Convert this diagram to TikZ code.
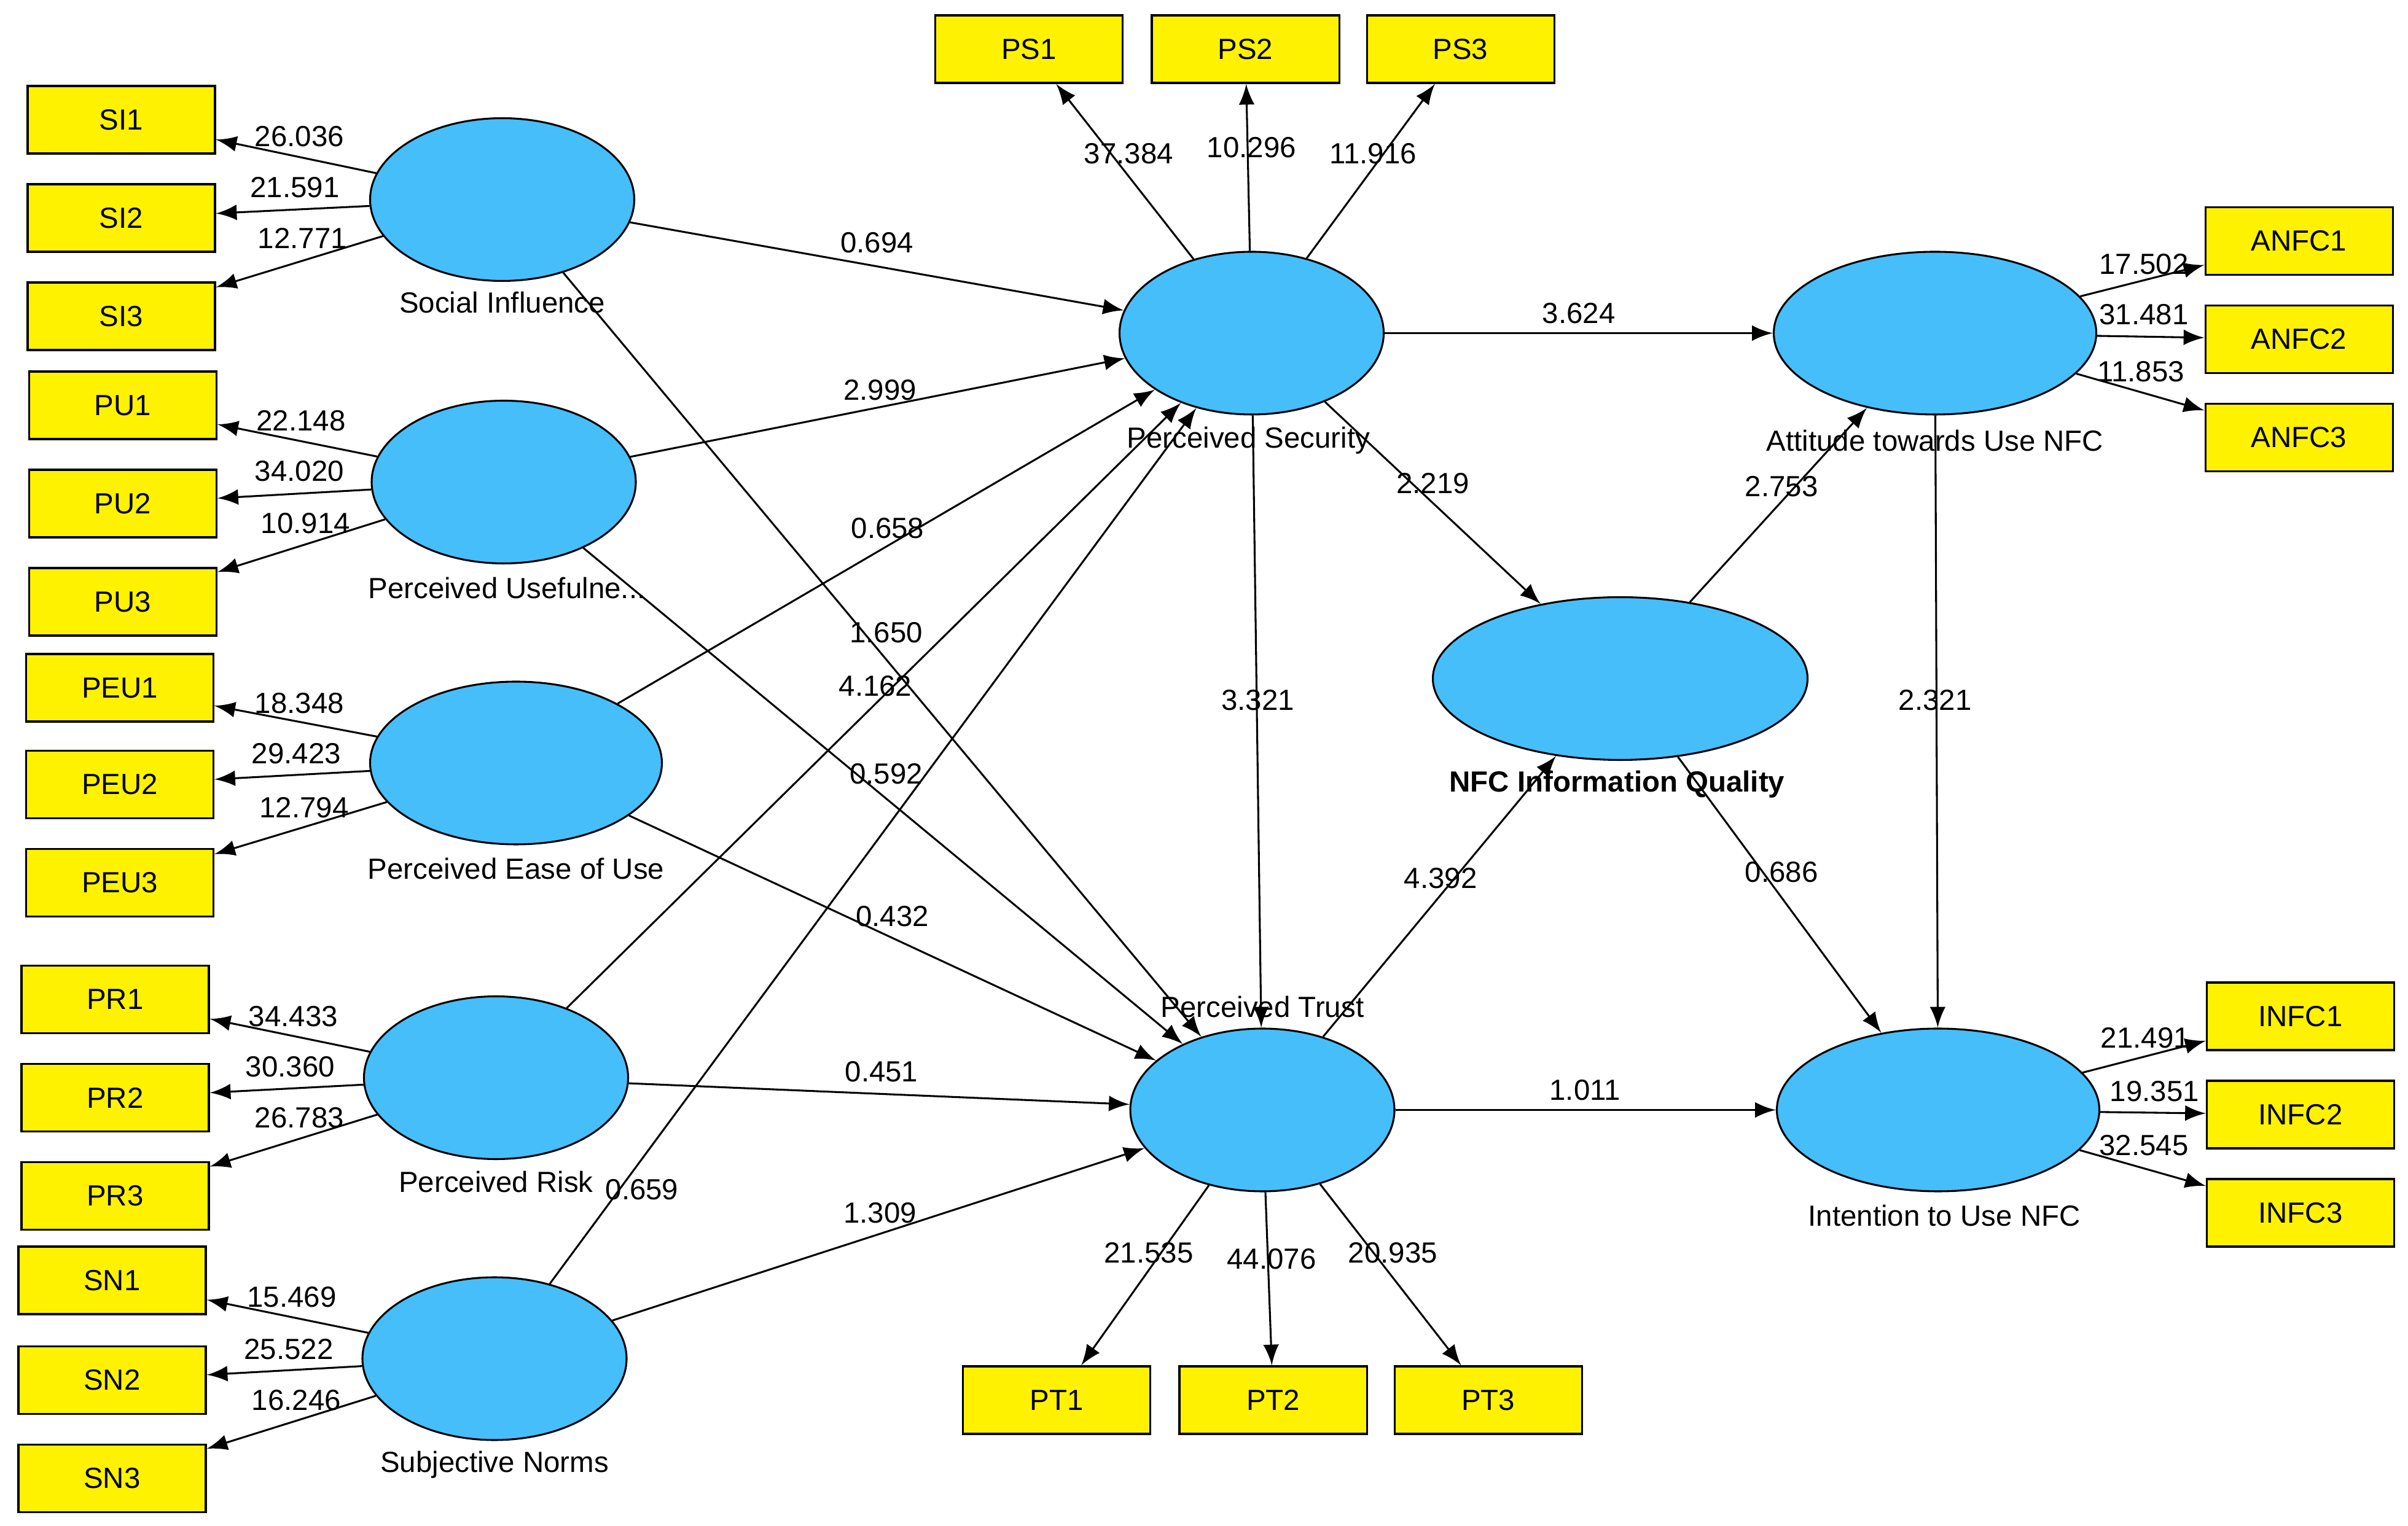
\documentclass[tikz,border=0pt]{standalone}
\usepackage{fontspec}
\setmainfont{Liberation Sans}
\usetikzlibrary{shapes.geometric}
\definecolor{lvblue}{RGB}{70,190,250}
\begin{document}
\begin{tikzpicture}[
            > = latex, % arrow head style
            line width = 0.35pt,
            font = \fontsize{5.4}{6}\selectfont,
            lv/.style = {shape=ellipse, draw=black, fill=lvblue, minimum width=1.72cm, minimum height=1.06cm, inner sep=0pt},
            mv/.style = {shape=rectangle, draw=black, fill=yellow, minimum width=1.22cm, minimum height=0.44cm, inner sep=0pt},
            lab/.style = {inner sep=0pt}
        ]
\useasboundingbox (0,0) rectangle (15.68,-9.94);

% latent variables
\node[lv] (SI) at (3.27,-1.30) {};
\node[lv] (PU) at (3.28,-3.14) {};
\node[lv, minimum width=1.90cm] (PEU) at (3.36,-4.97) {};
\node[lv] (PR) at (3.23,-7.02) {};
\node[lv] (SN) at (3.22,-8.85) {};
\node[lv] (PS) at (8.15,-2.17) {};
\node[lv] (PT) at (8.22,-7.23) {};
\node[lv, minimum width=2.44cm] (NIQ) at (10.55,-4.42) {};
\node[lv, minimum width=2.10cm] (ANFC) at (12.60,-2.17) {};
\node[lv, minimum width=2.10cm] (INFC) at (12.62,-7.23) {};

\node[lab] at (3.27,-1.97) {Social Influence};
\node[lab] at (3.30,-3.83) {Perceived Usefulne...};
\node[lab] at (3.36,-5.66) {Perceived Ease of Use};
\node[lab] at (3.23,-7.70) {Perceived Risk};
\node[lab] at (3.22,-9.54) {Subjective Norms};
\node[lab] at (8.13,-2.87) {Perceived Security};
\node[lab] at (8.22,-6.56) {Perceived Trust};
\node[lab] at (10.53,-5.11) {\bfseries NFC Information Quality};
\node[lab] at (12.60,-2.87) {Attitude towards Use NFC};
\node[lab] at (12.66,-7.92) {Intention to Use NFC};

% indicators
\node[mv] (SI1) at (0.79,-0.78) {SI1};
\node[mv] (SI2) at (0.79,-1.42) {SI2};
\node[mv] (SI3) at (0.79,-2.06) {SI3};
\node[mv] (PU1) at (0.80,-2.64) {PU1};
\node[mv] (PU2) at (0.80,-3.28) {PU2};
\node[mv] (PU3) at (0.80,-3.92) {PU3};
\node[mv] (PEU1) at (0.78,-4.48) {PEU1};
\node[mv] (PEU2) at (0.78,-5.11) {PEU2};
\node[mv] (PEU3) at (0.78,-5.75) {PEU3};
\node[mv] (PR1) at (0.75,-6.51) {PR1};
\node[mv] (PR2) at (0.75,-7.15) {PR2};
\node[mv] (PR3) at (0.75,-7.79) {PR3};
\node[mv] (SN1) at (0.73,-8.34) {SN1};
\node[mv] (SN2) at (0.73,-8.99) {SN2};
\node[mv] (SN3) at (0.73,-9.63) {SN3};
\node[mv] (PS1) at (6.70,-0.32) {PS1};
\node[mv] (PS2) at (8.11,-0.32) {PS2};
\node[mv] (PS3) at (9.51,-0.32) {PS3};
\node[mv] (PT1) at (6.88,-9.12) {PT1};
\node[mv] (PT2) at (8.29,-9.12) {PT2};
\node[mv] (PT3) at (9.69,-9.12) {PT3};
\node[mv] (ANFC1) at (14.97,-1.57) {ANFC1};
\node[mv] (ANFC2) at (14.97,-2.21) {ANFC2};
\node[mv] (ANFC3) at (14.97,-2.85) {ANFC3};
\node[mv] (INFC1) at (14.98,-6.62) {INFC1};
\node[mv] (INFC2) at (14.98,-7.26) {INFC2};
\node[mv] (INFC3) at (14.98,-7.90) {INFC3};

% outer loadings
\path [->] (SI) edge (SI1) (SI) edge (SI2) (SI) edge (SI3);
\path [->] (PU) edge (PU1) (PU) edge (PU2) (PU) edge (PU3);
\path [->] (PEU) edge (PEU1) (PEU) edge (PEU2) (PEU) edge (PEU3);
\path [->] (PR) edge (PR1) (PR) edge (PR2) (PR) edge (PR3);
\path [->] (SN) edge (SN1) (SN) edge (SN2) (SN) edge (SN3);
\path [->] (PS) edge (PS1) (PS) edge (PS2) (PS) edge (PS3);
\path [->] (PT) edge (PT1) (PT) edge (PT2) (PT) edge (PT3);
\path [->] (ANFC) edge (ANFC1) (ANFC) edge (ANFC2) (ANFC) edge (ANFC3);
\path [->] (INFC) edge (INFC1) (INFC) edge (INFC2) (INFC) edge (INFC3);

\node[lab] at (1.95,-0.89) {26.036};
\node[lab] at (1.92,-1.22) {21.591};
\node[lab] at (1.97,-1.55) {12.771};
\node[lab] at (1.96,-2.74) {22.148};
\node[lab] at (1.95,-3.07) {34.020};
\node[lab] at (1.99,-3.41) {10.914};
\node[lab] at (1.95,-4.58) {18.348};
\node[lab] at (1.93,-4.91) {29.423};
\node[lab] at (1.98,-5.26) {12.794};
\node[lab] at (1.91,-6.62) {34.433};
\node[lab] at (1.89,-6.95) {30.360};
\node[lab] at (1.95,-7.28) {26.783};
\node[lab] at (1.90,-8.45) {15.469};
\node[lab] at (1.88,-8.79) {25.522};
\node[lab] at (1.93,-9.12) {16.246};
\node[lab] at (7.35,-1.00) {37.384};
\node[lab] at (8.15,-0.96) {10.296};
\node[lab] at (8.94,-1.00) {11.916};
\node[lab] at (7.48,-8.16) {21.535};
\node[lab] at (8.28,-8.20) {44.076};
\node[lab] at (9.07,-8.16) {20.935};
\node[lab] at (13.96,-1.72) {17.502};
\node[lab] at (13.96,-2.05) {31.481};
\node[lab] at (13.94,-2.42) {11.853};
\node[lab] at (13.97,-6.76) {21.491};
\node[lab] at (14.03,-7.11) {19.351};
\node[lab] at (13.96,-7.46) {32.545};

% inner model
\path [->] (SI) edge (PS) (PU) edge (PS) (PEU) edge (PS) (PR) edge (PS) (SN) edge (PS);
\path [->] (SI) edge (PT) (PU) edge (PT) (PEU) edge (PT) (PR) edge (PT) (SN) edge (PT);
\path [->] (PS) edge (ANFC) (PS) edge (NIQ) (PS) edge (PT);
\path [->] (NIQ) edge (ANFC) (PT) edge (NIQ) (NIQ) edge (INFC);
\path [->] (ANFC) edge (INFC) (PT) edge (INFC);

\node[lab] at (5.71,-1.58) {0.694};
\node[lab] at (5.73,-2.54) {2.999};
\node[lab] at (5.78,-3.44) {0.658};
\node[lab] at (5.77,-4.12) {1.650};
\node[lab] at (5.70,-4.47) {4.162};
\node[lab] at (5.77,-5.04) {0.592};
\node[lab] at (5.81,-5.97) {0.432};
\node[lab] at (5.74,-6.98) {0.451};
\node[lab] at (4.18,-7.75) {0.659};
\node[lab] at (5.73,-7.90) {1.309};
\node[lab] at (10.28,-2.04) {3.624};
\node[lab] at (9.33,-3.15) {2.219};
\node[lab] at (11.60,-3.17) {2.753};
\node[lab] at (8.19,-4.56) {3.321};
\node[lab] at (12.60,-4.56) {2.321};
\node[lab] at (9.38,-5.72) {4.392};
\node[lab] at (11.60,-5.68) {0.686};
\node[lab] at (10.32,-7.10) {1.011};
\end{tikzpicture}
\end{document}
